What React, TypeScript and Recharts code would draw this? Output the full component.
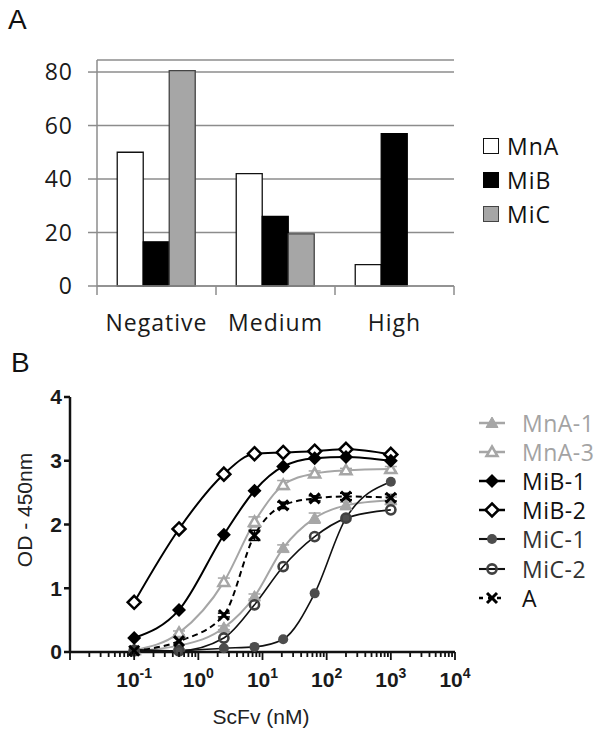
import React from 'react';
import { BarChart, Bar, XAxis, YAxis, CartesianGrid, LineChart, Line, ErrorBar } from 'recharts';

// panel A: share of clones per reactivity group (%)
const groups = ['Negative', 'Medium', 'High'];
const mnaPct = [50, 42, 8];
const mibPct = [16.5, 26, 57];
const micPct = [80.5, 19.5, 0];
const pctTicks = [0, 20, 40, 60, 80];

// panel B: ELISA titration, OD 450nm vs scFv concentration (nM)
const conc = [0.1, 0.5, 2.5, 7.5, 21, 65, 200, 1000];
const mna1 = [0.02, 0.1, 0.38, 0.87, 1.63, 2.1, 2.3, 2.38];
const mna3 = [0.03, 0.3, 1.1, 2.04, 2.62, 2.8, 2.85, 2.87];
const mib1 = [0.22, 0.66, 1.84, 2.53, 2.91, 3.04, 3.06, 3.0];
const mib2 = [0.78, 1.93, 2.79, 3.11, 3.13, 3.15, 3.18, 3.1];
const mic1 = [0.04, 0.02, 0.06, 0.08, 0.2, 0.92, 2.1, 2.67];
const mic2 = [0.02, 0.02, 0.22, 0.74, 1.34, 1.81, 2.1, 2.23];
const ctrlA = [0.02, 0.17, 0.58, 1.83, 2.3, 2.41, 2.44, 2.42];
const mna1Err = [0, 0, 0.03, 0.04, 0.05, 0.08, 0.05, 0.05];
const mna3Err = [0, 0.03, 0.06, 0.08, 0.07, 0.04, 0.03, 0.04];
const ctrlAErr = [0, 0, 0.03, 0.08, 0.05, 0.04, 0.05, 0.05];
const odTicks = [0, 1, 2, 3, 4];
const decades = [-2, -1, 0, 1, 2, 3, 4];

const barRows = groups.map((g, i) => ({ group: g, MnA: mnaPct[i], MiB: mibPct[i], MiC: micPct[i] }));

const barSeries = [
  { key: 'MnA', fill: '#ffffff', stroke: '#111' },
  { key: 'MiB', fill: '#000000', stroke: '#000' },
  { key: 'MiC', fill: '#a6a6a6', stroke: '#444' },
];

const curveSeries = [
  { key: 'mna1', name: 'MnA-1', values: mna1, err: mna1Err, color: '#a6a6a6', text: '#a3a3a3', kind: 'tri', width: 2 },
  { key: 'mna3', name: 'MnA-3', values: mna3, err: mna3Err, color: '#a6a6a6', text: '#a3a3a3', kind: 'triOpen', width: 2 },
  { key: 'mic1', name: 'MiC-1', values: mic1, err: null, color: '#111', mark: '#4d4d4d', text: '#333', kind: 'dot', width: 1.6 },
  { key: 'mic2', name: 'MiC-2', values: mic2, err: null, color: '#111', mark: '#404040', text: '#333', kind: 'ring', width: 1.6 },
  { key: 'ctrlA', name: 'A', values: ctrlA, err: ctrlAErr, color: '#000', text: '#111', kind: 'cross', width: 2, dash: '6 4' },
  { key: 'mib2', name: 'MiB-2', values: mib2, err: null, color: '#000', text: '#111', kind: 'diaOpen', width: 2 },
  { key: 'mib1', name: 'MiB-1', values: mib1, err: null, color: '#000', text: '#111', kind: 'dia', width: 2 },
];
const legendOrder = ['mna1', 'mna3', 'mib1', 'mib2', 'mic1', 'mic2', 'ctrlA'];

const curveRows = conc.map((x, i) => {
  const row: any = { x };
  curveSeries.forEach(s => {
    row[s.key] = s.values[i];
    if (s.err) row[s.key + 'Err'] = s.err[i];
  });
  return row;
});

const logTicks: number[] = [];
decades.forEach(d => {
  for (let m = 1; m <= 9; m++) {
    if (d === 4 && m > 1) break;
    logTicks.push(m * Math.pow(10, d));
  }
});

function Marker({ cx, cy, kind, color }: any) {
  if (cx == null || cy == null) return null;
  switch (kind) {
    case 'tri':
      return <polygon points={`${cx},${cy - 6} ${cx + 6},${cy + 4.5} ${cx - 6},${cy + 4.5}`} fill={color} stroke={color} strokeWidth={1} />;
    case 'triOpen':
      return <polygon points={`${cx},${cy - 5.5} ${cx + 5.5},${cy + 4} ${cx - 5.5},${cy + 4}`} fill="#fff" stroke={color} strokeWidth={2.5} />;
    case 'dia':
      return <polygon points={`${cx},${cy - 7} ${cx + 7},${cy} ${cx},${cy + 7} ${cx - 7},${cy}`} fill={color} />;
    case 'diaOpen':
      return <polygon points={`${cx},${cy - 6.5} ${cx + 6.5},${cy} ${cx},${cy + 6.5} ${cx - 6.5},${cy}`} fill="#fff" stroke={color} strokeWidth={2.5} />;
    case 'dot':
      return <circle cx={cx} cy={cy} r={5} fill={color} />;
    case 'ring':
      return <circle cx={cx} cy={cy} r={4.6} fill="none" stroke={color} strokeWidth={2.6} />;
    case 'cross':
      return (
        <g stroke={color} strokeWidth={3}>
          <line x1={cx - 5} y1={cy - 5} x2={cx + 5} y2={cy + 5} />
          <line x1={cx - 5} y1={cy + 5} x2={cx + 5} y2={cy - 5} />
        </g>
      );
    default:
      return null;
  }
}

const bandHalf = (454 - 97) / 6;
const calibri = "'Open Sans', sans-serif";
const arial = "'Liberation Sans', Arial, sans-serif";

function GroupTick({ x, y, payload, index }: any) {
  return (
    <g>
      <line x1={x - bandHalf} y1={y} x2={x - bandHalf} y2={y + 9} stroke="#8c8c8c" strokeWidth={1.5} />
      {index === groups.length - 1 && (
        <line x1={x + bandHalf} y1={y} x2={x + bandHalf} y2={y + 9} stroke="#8c8c8c" strokeWidth={1.5} />
      )}
      <text x={x} y={y + 45} textAnchor="middle" fontSize={23} fill="#1a1a1a" fontFamily={calibri} letterSpacing={1}>
        {payload.value}
      </text>
    </g>
  );
}

function LogTick({ x, y, payload }: any) {
  const v = payload.value;
  const e = Math.round(Math.log10(v));
  const major = Math.abs(Math.log10(v) - e) < 1e-6;
  return (
    <g>
      <line x1={x} y1={y} x2={x} y2={y + (major ? 8 : 5)} stroke="#111" strokeWidth={1.8} />
      {major && e > -2 && (
        <text x={x} y={y + 35} textAnchor="middle" fontSize={21} fontWeight="bold" fill="#1a1a1a" fontFamily={arial}>
          <tspan>10</tspan>
          <tspan dy={-9} fontSize={14}>{e}</tspan>
        </text>
      )}
    </g>
  );
}

export default function App() {
  return (
    <div style={{ position: 'relative', width: 608, height: 736, background: '#fff', overflow: 'hidden' }}>
      <style>{'body{margin:0}'}</style>

      <div style={{ position: 'absolute', left: 8, top: 6, fontSize: 28, lineHeight: '28px', fontFamily: arial, color: '#111' }}>A</div>
      <div style={{ position: 'absolute', left: 11, top: 349, fontSize: 28, lineHeight: '28px', fontFamily: arial, color: '#111' }}>B</div>

      <div style={{ position: 'absolute', left: 0, top: 0 }}>
        <BarChart width={608} height={345} data={barRows} margin={{ top: 60, right: 154, bottom: 9, left: 0 }} barCategoryGap="17%" barGap={0}>
          <CartesianGrid horizontal vertical={false} stroke="#8c8c8c" strokeWidth={1.5} />
          <XAxis dataKey="group" height={50} tickLine={false} tickSize={0} tickMargin={0} axisLine={{ stroke: '#8c8c8c', strokeWidth: 1.5 }} tick={<GroupTick />} interval={0} />
          <YAxis width={97} domain={[0, 84.5]} ticks={pctTicks} tickSize={9} tickMargin={15}
            axisLine={{ stroke: '#8c8c8c', strokeWidth: 1.5 }} tickLine={{ stroke: '#8c8c8c', strokeWidth: 1.5 }}
            tick={{ fontSize: 23, fill: '#1a1a1a', fontFamily: calibri, letterSpacing: 1 }} />
          {barSeries.map(s => (
            <Bar key={s.key} dataKey={s.key} fill={s.fill} stroke={s.stroke} strokeWidth={1.3} isAnimationActive={false} />
          ))}
        </BarChart>
      </div>

      <div style={{ position: 'absolute', left: 483, top: 129, fontFamily: calibri, fontSize: 23, letterSpacing: 1, color: '#111' }}>
        {barSeries.map(s => (
          <div key={s.key} style={{ display: 'flex', alignItems: 'center', height: 34 }}>
            <span style={{ display: 'inline-block', width: 14, height: 14, background: s.fill, border: `1.5px solid ${s.stroke}`, marginRight: 8 }} />
            <span>{s.key}</span>
          </div>
        ))}
      </div>

      <div style={{ position: 'absolute', left: 0, top: 360 }}>
        <LineChart width={608} height={376} data={curveRows} margin={{ top: 37, right: 153, bottom: 12, left: 0 }}>
          <XAxis dataKey="x" type="number" scale="log" domain={[0.01, 10000]} allowDataOverflow ticks={logTicks} interval={0}
            height={72} tickLine={false} tickSize={0} tickMargin={0} tick={<LogTick />}
            axisLine={{ stroke: '#111', strokeWidth: 2.5 }}
            label={{
              content: () => (
                <text x={261} y={356} textAnchor="middle" dominantBaseline="central" fontSize={21} fill="#222" fontFamily={arial}>ScFv (nM)</text>
              ),
            }} />
          <YAxis domain={[0, 4]} ticks={odTicks} width={70} tickSize={6} tickMargin={2}
            axisLine={{ stroke: '#111', strokeWidth: 2.5 }} tickLine={{ stroke: '#111', strokeWidth: 2.5 }}
            tick={{ fontSize: 21, fontWeight: 'bold', fill: '#1a1a1a', fontFamily: arial }}
            label={{
              content: () => (
                <text x={24} y={150} transform="rotate(-90 24 150)" textAnchor="middle" dominantBaseline="central" fontSize={21} fill="#222" fontFamily={arial}>OD - 450nm</text>
              ),
            }} />
          {curveSeries.map(s => (
            <Line key={s.key} dataKey={s.key} type="monotone" stroke={s.color} strokeWidth={s.width}
              strokeDasharray={s.dash} isAnimationActive={false} activeDot={false}
              dot={(p: any) => <Marker key={`${s.key}-${p.index}`} cx={p.cx} cy={p.cy} kind={s.kind} color={s.mark || s.color} />}>
              {s.err && <ErrorBar dataKey={s.key + 'Err'} direction="y" width={6} strokeWidth={1.5} stroke={s.color} />}
            </Line>
          ))}
        </LineChart>
      </div>

      <div style={{ position: 'absolute', left: 478, top: 408, fontFamily: calibri, fontSize: 23, letterSpacing: 0.5 }}>
        {legendOrder.map(k => {
          const s = curveSeries.find(c => c.key === k)!;
          return (
            <div key={k} style={{ display: 'flex', alignItems: 'center', height: 29.2, color: s.text }}>
              <svg width={28} height={20} style={{ marginRight: 16 }}>
                <line x1={1} y1={10} x2={27} y2={10} stroke={s.color} strokeWidth={s.width + 0.5} strokeDasharray={s.dash ? '4 5' : undefined} />
                <Marker cx={14} cy={10} kind={s.kind} color={s.mark || s.color} />
              </svg>
              <span>{s.name}</span>
            </div>
          );
        })}
      </div>
    </div>
  );
}
